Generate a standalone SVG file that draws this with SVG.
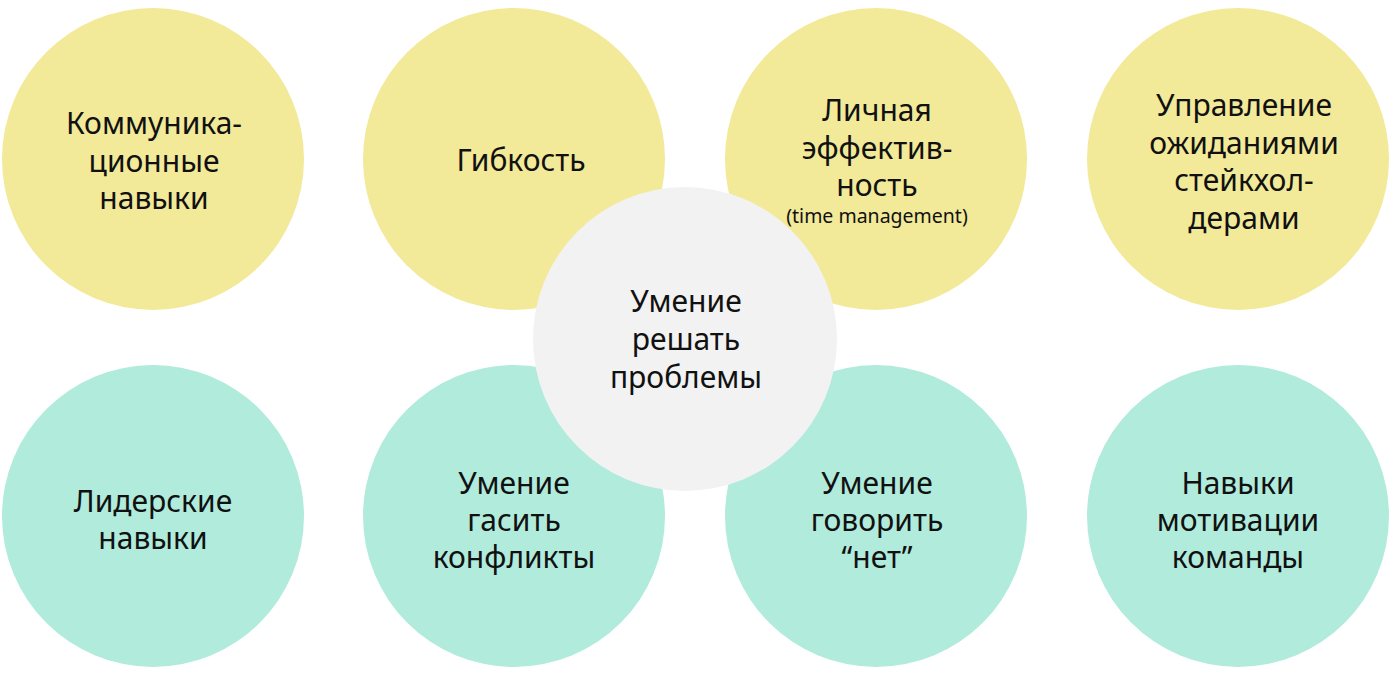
<svg xmlns="http://www.w3.org/2000/svg" width="1395" height="676" viewBox="0 0 1395 676">
<style>
.y{fill:#F2E999}
.t{fill:#B0EBDC}
.g{fill:#F2F2F2}
text{font-family:"Noto Sans","Open Sans",sans-serif;font-size:30px;fill:#111;text-anchor:middle}
text.s{font-size:19.5px}
</style>
<g id="n1"><circle class="y" cx="153" cy="159" r="151"/><text x="154" y="134">Коммуника-</text><text x="154" y="171.5">ционные</text><text x="154" y="209">навыки</text></g>
<g id="n2"><circle class="y" cx="514" cy="159" r="151"/><text x="521" y="171">Гибкость</text></g>
<g id="n3"><circle class="y" cx="876" cy="159" r="151"/><text x="877" y="121">Личная</text><text x="877" y="158.5">эффектив-</text><text x="877" y="196">ность</text><text class="s" x="877" y="223">(time management)</text></g>
<g id="n4"><circle class="y" cx="1238" cy="159" r="151"/><text x="1244" y="116">Управление</text><text x="1244" y="153.5">ожиданиями</text><text x="1244" y="191">стейкхол-</text><text x="1244" y="228.5">дерами</text></g>
<g id="n5"><circle class="t" cx="153" cy="516" r="151"/><text x="153" y="512">Лидерские</text><text x="153" y="549">навыки</text></g>
<g id="n6"><circle class="t" cx="514" cy="516" r="151"/><text x="514" y="494">Умение</text><text x="514" y="531">гасить</text><text x="514" y="568">конфликты</text></g>
<g id="n7"><circle class="t" cx="876" cy="516" r="151"/><text x="877" y="494">Умение</text><text x="877" y="531">говорить</text><text x="877" y="568">“нет”</text></g>
<g id="n8"><circle class="t" cx="1238" cy="516" r="151"/><text x="1238" y="494">Навыки</text><text x="1238" y="531">мотивации</text><text x="1238" y="568">команды</text></g>
<g id="n0"><circle class="g" cx="685" cy="339" r="152"/><text x="686" y="312">Умение</text><text x="686" y="350">решать</text><text x="686" y="388">проблемы</text></g>
<g id="connectors"></g>
</svg>
